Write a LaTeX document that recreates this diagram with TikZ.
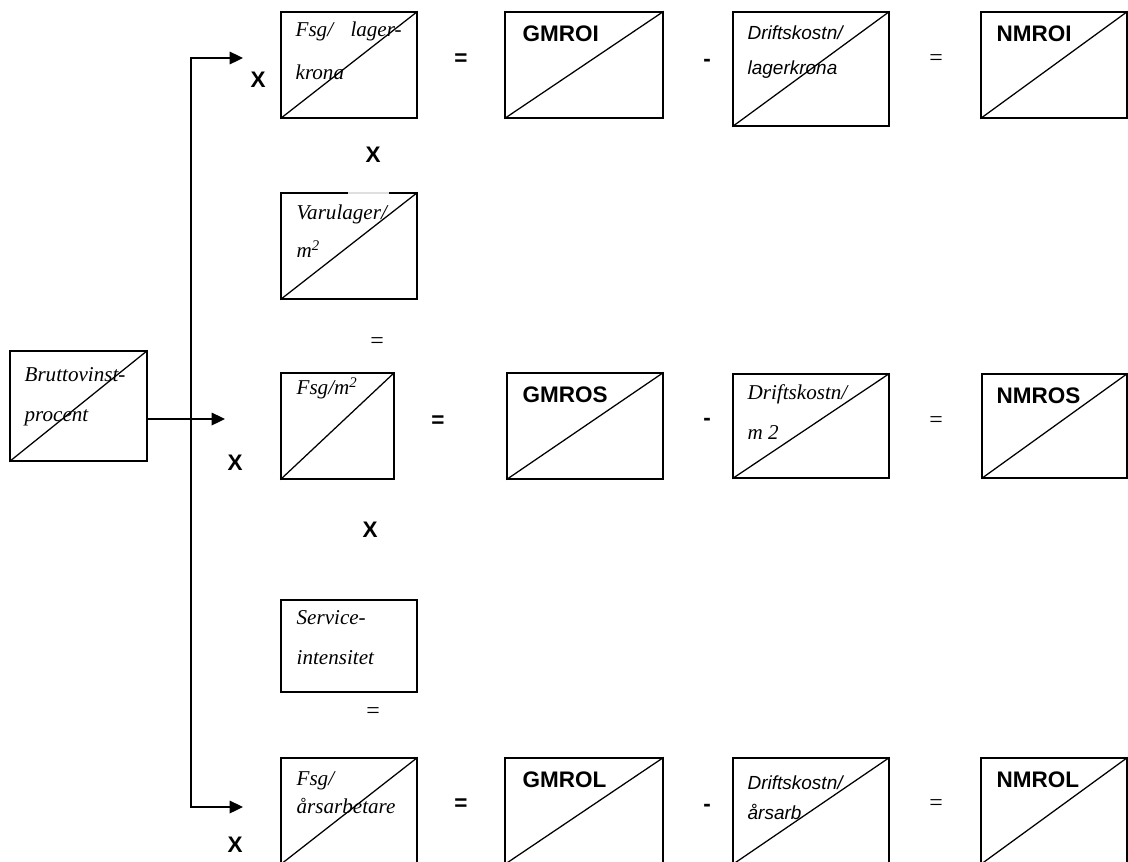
\documentclass[tikz,border=0pt]{standalone}
\usepackage{fontspec}
\setmainfont{Liberation Serif}
\setsansfont{Liberation Sans}
\usetikzlibrary{arrows.meta,fit}
\tikzset{
  ruta/.style={draw, line width=0.9pt, inner sep=0pt},
  tx/.style={anchor=base west, inner sep=0pt, font=\itshape\fontsize{15}{18}\selectfont},
  txs/.style={anchor=base west, inner sep=0pt, font=\sffamily\itshape\fontsize{13.5}{16}\selectfont},
  kod/.style={anchor=base west, inner sep=0pt, font=\sffamily\bfseries\fontsize{16}{19}\selectfont},
  op/.style={inner sep=0pt, font=\sffamily\bfseries\fontsize{16}{19}\selectfont},
  lik/.style={inner sep=0pt, font=\fontsize{17}{19}\selectfont},
  pil/.style={-{Triangle[length=9.5pt,width=9pt]}, line width=0.9pt}
}
\begin{document}
\begin{tikzpicture}[x=0.025cm, y=-0.025cm]
\useasboundingbox (0,0) rectangle (1128,861);

\node[ruta, fit={(281,12) (417,118)}] (flk) {};
\node[ruta, fit={(505,12) (663,118)}] (gmroi) {};
\node[ruta, fit={(733,12) (889,126)}] (dlk) {};
\node[ruta, fit={(981,12) (1127,118)}] (nmroi) {};
\node[ruta, fit={(281,193) (417,299)}] (varu) {};
\node[ruta, fit={(10,351) (147,461)}] (brutto) {};
\node[ruta, fit={(281,373) (394,479)}] (fm2) {};
\node[ruta, fit={(507,373) (663,479)}] (gmros) {};
\node[ruta, fit={(733,374) (889,478)}] (dm2) {};
\node[ruta, fit={(982,374) (1127,478)}] (nmros) {};
\node[ruta, fit={(281,600) (417,692)}] (serv) {};
\node[ruta, fit={(281,758) (417,864)}] (fa) {};
\node[ruta, fit={(505,758) (663,864)}] (gmrol) {};
\node[ruta, fit={(733,758) (889,864)}] (da) {};
\node[ruta, fit={(981,758) (1127,864)}] (nmrol) {};

\foreach \r in {flk,gmroi,dlk,nmroi,varu,brutto,fm2,gmros,dm2,nmros,fa,gmrol,da,nmrol}
  \draw[line width=0.9pt] (\r.south west) -- (\r.north east);

\draw[gray!25, line width=1pt] (348,193) -- (389,193);

\node[tx] (flk-a) at ([shift={(15,25)}]flk.north west) {\makebox[2.65cm][s]{Fsg/ lager-}};
\node[tx] (flk-b) at ([shift={(15,68)}]flk.north west) {krona};
\node[kod] (gmroi-a) at ([shift={(18,30)}]gmroi.north west) {GMROI};
\node[txs] (dlk-a) at ([shift={(15,28)}]dlk.north west) {Driftskostn/};
\node[txs] (dlk-b) at ([shift={(15,63)}]dlk.north west) {lagerkrona};
\node[kod] (nmroi-a) at ([shift={(16,30)}]nmroi.north west) {NMROI};
\node[tx] (varu-a) at ([shift={(16,27)}]varu.north west) {Varulager/};
\node[tx] (varu-b) at ([shift={(16,65)}]varu.north west) {m\textsuperscript{2}};
\node[tx] (brutto-a) at ([shift={(15,31)}]brutto.north west) {Bruttovinst-};
\node[tx] (brutto-b) at ([shift={(15,71)}]brutto.north west) {procent};
\node[tx] (fm2-a) at ([shift={(16,22)}]fm2.north west) {Fsg/m\textsuperscript{2}};
\node[kod] (gmros-a) at ([shift={(16,30)}]gmros.north west) {GMROS};
\node[tx] (dm2-a) at ([shift={(15,26)}]dm2.north west) {Driftskostn/};
\node[tx] (dm2-b) at ([shift={(15,66)}]dm2.north west) {m 2};
\node[kod] (nmros-a) at ([shift={(15,30)}]nmros.north west) {NMROS};
\node[tx] (serv-a) at ([shift={(16,25)}]serv.north west) {Service-};
\node[tx] (serv-b) at ([shift={(16,65)}]serv.north west) {intensitet};
\node[tx] (fa-a) at ([shift={(16,28)}]fa.north west) {Fsg/};
\node[tx] (fa-b) at ([shift={(16,56)}]fa.north west) {årsarbetare};
\node[kod] (gmrol-a) at ([shift={(18,30)}]gmrol.north west) {GMROL};
\node[txs] (da-a) at ([shift={(15,32)}]da.north west) {Driftskostn/};
\node[txs] (da-b) at ([shift={(15,62)}]da.north west) {årsarb};
\node[kod] (nmrol-a) at ([shift={(16,30)}]nmrol.north west) {NMROL};

\node[op] (x1) at (258,80) {X};
\node[op] (e1) at (461,60) {=};
\node[op] (m1) at (707,63) {-};
\node[lik] (l1) at (936,60) {=};
\node[op] (x2) at (373,155) {X};
\node[lik] (l2) at (377,343) {=};
\node[op] (x3) at (235,463) {X};
\node[op] (e3) at (438,422) {=};
\node[op] (m3) at (707,422) {-};
\node[lik] (l3) at (936,422) {=};
\node[op] (x4) at (370,530) {X};
\node[lik] (l4) at (373,713) {=};
\node[op] (x5) at (235,845) {X};
\node[op] (e5) at (461,805) {=};
\node[op] (m5) at (707,808) {-};
\node[lik] (l5) at (936,805) {=};

\coordinate (k1) at (191,58);
\coordinate (k2) at (191,807);
\coordinate (p1) at (243,58);
\coordinate (p2) at (225,419);
\coordinate (p3) at (243,807);
\draw[pil] (k2) -- (k1) -- (p1);
\draw[pil] (k1) -- (k2) -- (p3);
\draw[pil] (brutto.east |- p2) -- (p2);
\end{tikzpicture}
\end{document}
